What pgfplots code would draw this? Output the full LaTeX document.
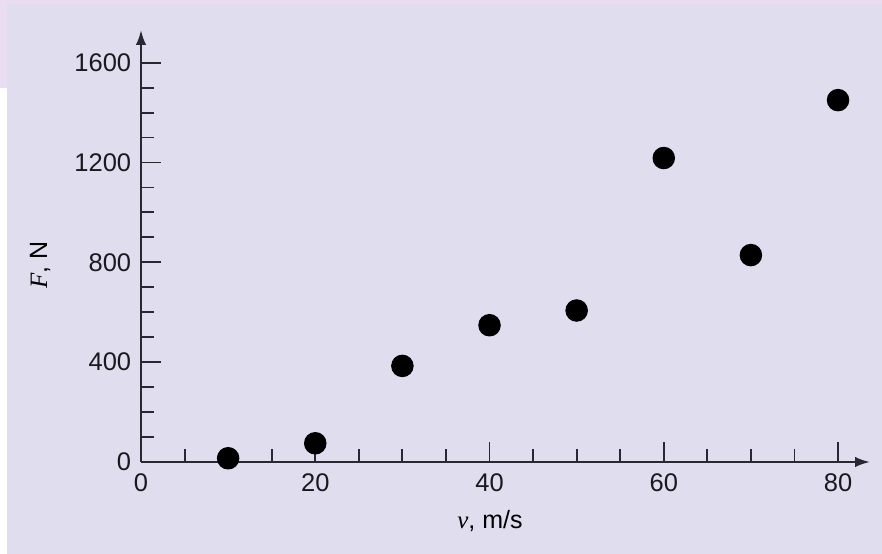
\documentclass[border=0pt]{standalone}
\usepackage{fontspec}
\setmainfont{Liberation Sans}
\newfontfamily\tnr{Liberation Serif}
\usepackage{pgfplots}
\pgfplotsset{compat=1.18}
\usetikzlibrary{arrows.meta}
\definecolor{bg}{RGB}{224,221,238}
\definecolor{bgpink}{RGB}{234,221,242}
\definecolor{axc}{RGB}{40,40,50}
\definecolor{txt}{RGB}{25,25,30}
\begin{document}
\begin{tikzpicture}[x=0.4pt,y=0.4pt]
\fill[bg] (0,0) rectangle (882,554);
\fill[bgpink] (0,550) rectangle (882,554);
\fill[bgpink] (0,466) rectangle (7,554);
\fill[white] (0,0) rectangle (7,466);
\begin{axis}[
  at={(56.4pt,36.8pt)}, anchor=south west,
  scale only axis, width=291.6pt, height=172.8pt,
  xmin=0, xmax=83.67, ymin=0, ymax=1731,
  clip=false,
  axis lines=left,
  axis line style={axc, line width=0.9pt},
  x axis line style={-{Latex[length=6pt,width=4.2pt]}},
  y axis line style={-{Latex[length=6pt,width=4.2pt]}},
  tick align=inside,
  major tick length=8pt, minor tick length=5.2pt,
  tick style={axc, line width=0.75pt},
  xtick={0,20,40,60,80}, minor xtick={5,10,...,75},
  ytick={0,400,800,1200,1600}, minor ytick={100,200,...,1500},
  /pgf/number format/assume math mode=true,
  /pgf/number format/1000 sep={},
  tick label style={font=\fontsize{10.2}{12}\selectfont, text=txt},
  xticklabel style={yshift=-1.2pt},
  yticklabel style={xshift=-0.4pt},
  label style={font=\fontsize{10.2}{12}\selectfont, text=txt},
  xlabel={{\tnr\itshape v}, m/s},
  ylabel={{\tnr\itshape F}, N},
  every axis x label/.style={at={(axis description cs:0.4787,-0.1366)}, anchor=center},
  every axis y label/.style={at={(axis description cs:-0.1385,0.456)}, anchor=center, rotate=90},
]
\addplot[only marks, mark=*, mark size=4.3pt, mark options={fill=black, draw=black}]
  coordinates {(10,15) (20,75) (30,385) (40,548) (50,607) (60,1218) (70,829) (80,1450)};
\end{axis}
\end{tikzpicture}
\end{document}
